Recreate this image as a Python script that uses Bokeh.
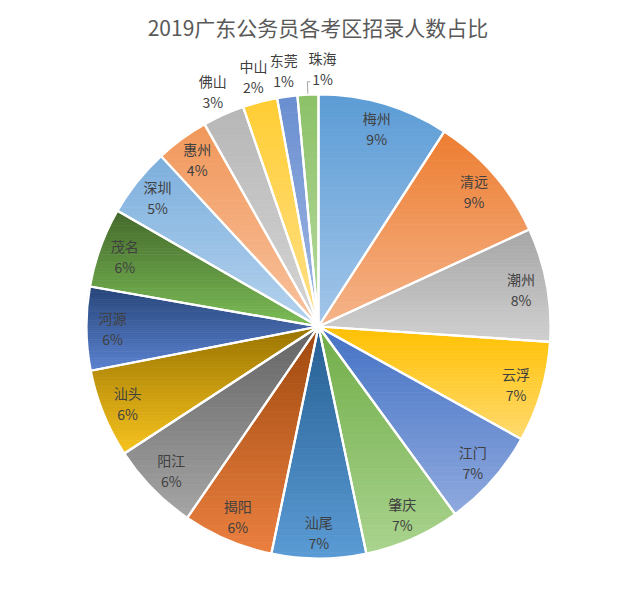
import numpy as np
from bokeh.plotting import figure
from bokeh.models import ColumnDataSource
from bokeh.embed import file_html
from bokeh.resources import INLINE
from bokeh.core.properties import value

# ---------------- data ----------------
title_text = "2019广东公务员各考区招录人数占比"
regions = ["梅州", "清远", "潮州", "云浮", "江门", "肇庆", "汕尾", "揭阳", "阳江",
           "汕头", "河源", "茂名", "深圳", "惠州", "佛山", "中山", "东莞", "珠海"]
shares = [9.1, 9.0, 7.9, 7.0, 6.9, 6.7, 6.55, 6.3, 6.2,
          6.15, 5.8, 5.55, 4.8, 3.7, 2.9, 2.4, 1.4, 1.45]

# gradient colours (top -> bottom of each slice)
top_colors = ["#5B9BD5", "#ED7D31", "#A5A5A5", "#FFC000", "#4472C4", "#70AD47",
              "#255E91", "#9E480E", "#636363", "#997300", "#264478", "#43682B",
              "#7CAFDD", "#F1975A", "#B7B7B7", "#FFCD33", "#698ED0", "#8CC168"]
bottom_colors = ["#A3C6E9", "#F5B48A", "#D0D0D0", "#FFDA6E", "#8FA9DE", "#A9D38E",
                 "#5B9BD5", "#EB8040", "#A5A5A5", "#F7C31E", "#5B82D0", "#7CBC56",
                 "#B5D2EE", "#F8C29E", "#D5D5D5", "#FFE08A", "#A3B9E5", "#B8DBA0"]

# ---------------- layout ----------------
W, H = 617, 595
CX, CY, R = 318.0, -326.0, 232.0

p = figure(width=W, height=H, x_range=(0, W), y_range=(-H, 0),
           output_backend="svg", toolbar_location=None, min_border=0)
p.axis.visible = False
p.grid.visible = False
p.outline_line_color = None
p.background_fill_color = "white"
p.border_fill_color = "white"

vals = np.array(shares, dtype=float)
frac = vals / vals.sum()
ends = np.cumsum(frac) * 2 * np.pi
starts = ends - frac * 2 * np.pi
mids = (starts + ends) / 2
pcts = frac * 100
labels = [f"{int(v + 0.5)}%" for v in pcts]


def hex2rgb(h):
    h = h.lstrip("#")
    return np.array([int(h[i:i + 2], 16) for i in (0, 2, 4)], dtype=float)


def rgb2hex(c):
    c = np.clip(np.round(c), 0, 255).astype(int)
    return "#%02x%02x%02x" % tuple(c)


def clip(poly, y, keep_above):
    out = []
    n = len(poly)
    for i in range(n):
        P = poly[i]
        Q = poly[(i + 1) % n]
        inP = P[1] >= y if keep_above else P[1] <= y
        inQ = Q[1] >= y if keep_above else Q[1] <= y
        if inP:
            out.append(P)
        if inP != inQ:
            t = (y - P[1]) / (Q[1] - P[1])
            out.append((P[0] + t * (Q[0] - P[0]), y))
    return out


xs, ys, cols = [], [], []
NB = 40
for i in range(len(vals)):
    th = np.linspace(starts[i], ends[i], 80)
    poly = [(CX, CY)] + [(CX + R * np.sin(t), CY + R * np.cos(t)) for t in th]
    ytop = max(pt[1] for pt in poly)
    ybot = min(pt[1] for pt in poly)
    c0, c1 = hex2rgb(top_colors[i]), hex2rgb(bottom_colors[i])
    for k in range(NB):
        y1 = ytop - (ytop - ybot) * k / NB
        y0 = ytop - (ytop - ybot) * (k + 1) / NB
        band = clip(clip(poly, y0, True), y1, False)
        if len(band) < 3:
            continue
        tt = (k + 0.5) / NB
        col = rgb2hex(c0 + (c1 - c0) * tt)
        xs.append([pt[0] for pt in band])
        ys.append([pt[1] for pt in band])
        cols.append(col)

p.patches(xs=xs, ys=ys, fill_color=cols, line_color=cols, line_width=0.8)

# slice borders
wsrc = ColumnDataSource(dict(start=np.pi / 2 - starts, end=np.pi / 2 - ends))
p.wedge(x=CX, y=CY, radius=R, start_angle="start", end_angle="end",
        direction="clock", source=wsrc, fill_color=None,
        line_color="white", line_width=2.2)

# labels
lx, ly = [], []
for i in range(len(vals)):
    if pcts[i] < 3.3:
        rr = 258.0
        ang = mids[i]
        if i == len(vals) - 1:
            ang = mids[i] + np.radians(3.5)
    else:
        rr = 206.0
        ang = mids[i]
    lx.append(CX + rr * np.sin(ang))
    ly.append(CY + rr * np.cos(ang))

lsrc = ColumnDataSource(dict(x=lx, y=ly, name=regions, pct=labels))
font = value("Noto Sans CJK SC")
p.text(x="x", y="y", text="name", source=lsrc, text_font=font,
       text_font_size="14px", text_color="#404040", text_align="center",
       text_baseline="middle", y_offset=-10.5)
p.text(x="x", y="y", text="pct", source=lsrc, text_font=font,
       text_font_size="14px", text_color="#404040", text_align="center",
       text_baseline="middle", y_offset=10.5)

# leader line for last slice
j = len(vals) - 1
a = mids[j]
p1 = (CX + (R + 1) * np.sin(a), CY + (R + 1) * np.cos(a))
p2 = (CX + (R + 13) * np.sin(a), CY + (R + 13) * np.cos(a))
p3 = (p2[0] + 3, p2[1])
p.line(x=[p1[0], p2[0], p3[0]], y=[p1[1], p2[1], p3[1]],
       line_color="#A6A6A6", line_width=1)

# title
p.text(x=[317.5], y=[-26], text=[title_text], text_font=font,
       text_font_size="21px", text_color="#595959", text_align="center",
       text_baseline="middle")

open("out.html", "w").write(file_html(p, INLINE))
